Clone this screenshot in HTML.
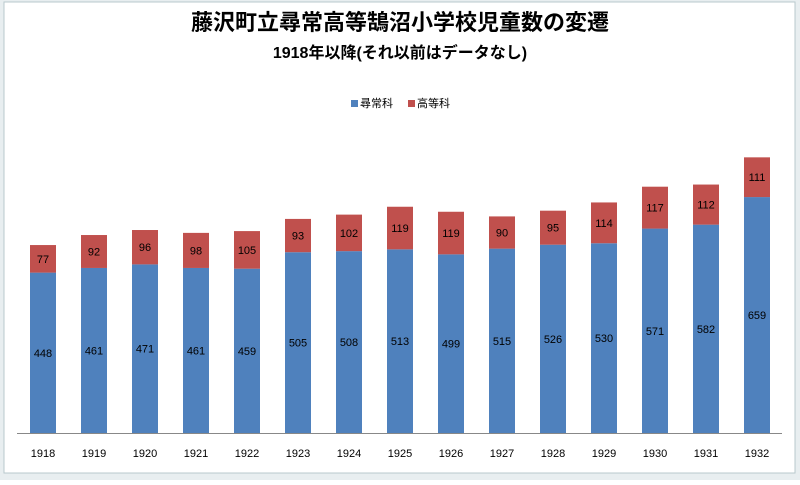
<!DOCTYPE html>
<html><head><meta charset="utf-8"><style>
body{margin:0;background:#fff}
text{font-family:"Liberation Sans","Noto Sans CJK JP",sans-serif}
</style></head><body>
<svg width="800" height="480" xmlns="http://www.w3.org/2000/svg">
<rect x="0" y="0" width="800" height="480" fill="#e8eef0"/>
<rect x="4" y="2" width="791" height="471" fill="#fff" stroke="#b8c8cc"/>
<text x="400" y="30" font-size="22" font-weight="bold" text-anchor="middle">藤沢町立尋常高等鵠沼小学校児童数の変遷</text>
<text x="400" y="58" font-size="16" font-weight="bold" text-anchor="middle">1918年以降(それ以前はデータなし)</text>
<rect x="351" y="100" width="7" height="7" fill="#4f81bd"/>
<text x="360" y="107" font-size="11">尋常科</text>
<rect x="408" y="100" width="7" height="7" fill="#c0504d"/>
<text x="417" y="107" font-size="11">高等科</text>
<line x1="17" y1="433.5" x2="782" y2="433.5" stroke="#888"/>
<g id="bars"></g>
</svg>
<script>
var d=[[1918,448,77],[1919,461,92],[1920,471,96],[1921,461,98],[1922,459,105],[1923,505,93],[1924,508,102],[1925,513,119],[1926,499,119],[1927,515,90],[1928,526,95],[1929,530,114],[1930,571,117],[1931,582,112],[1932,659,111]];
var s=0.358,b=433,g=document.getElementById('bars'),h='';
d.forEach(function(r,i){var c=43+51*i,x=c-13,hb=r[1]*s,hr=r[2]*s;
h+='<rect x="'+x+'" y="'+(b-hb)+'" width="26" height="'+hb+'" fill="#4f81bd"/>';
h+='<rect x="'+x+'" y="'+(b-hb-hr)+'" width="26" height="'+hr+'" fill="#c0504d"/>';
h+='<text x="'+c+'" y="'+(b-hb/2+4)+'" font-size="11" text-anchor="middle">'+r[1]+'</text>';
h+='<text x="'+c+'" y="'+(b-hb-hr/2+4)+'" font-size="11" text-anchor="middle">'+r[2]+'</text>';
h+='<text x="'+c+'" y="457" font-size="11" text-anchor="middle">'+r[0]+'</text>';});
g.innerHTML=h;
</script>
</body></html>
